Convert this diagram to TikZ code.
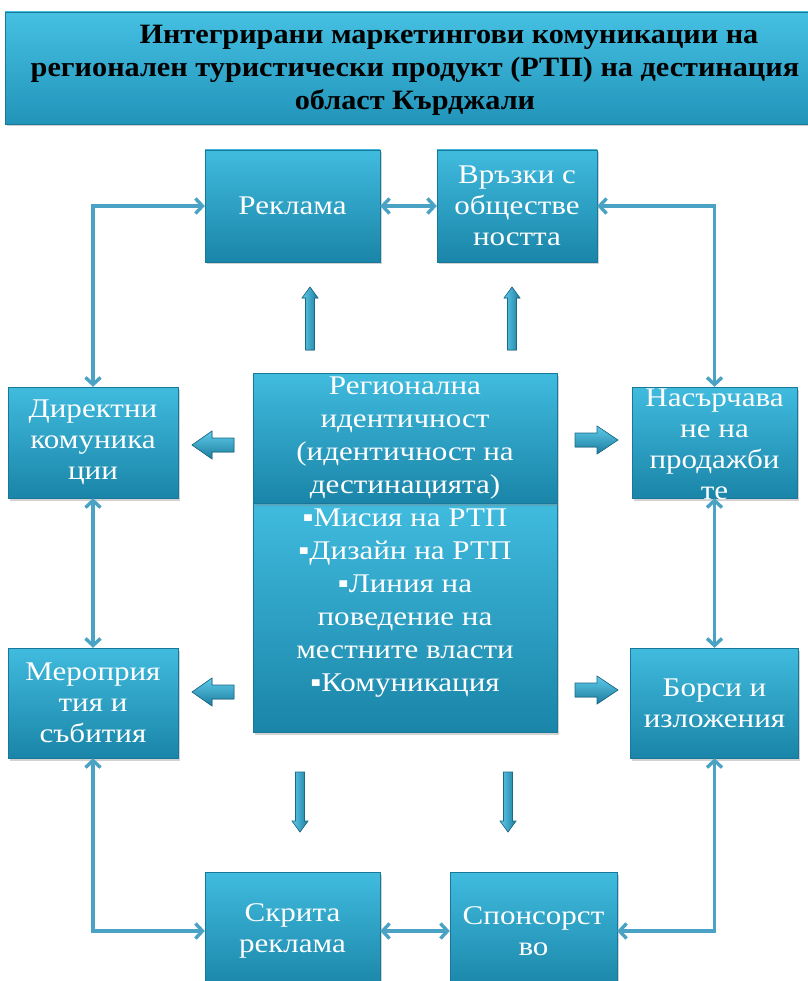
\documentclass[tikz,border=0pt]{standalone}
\usepackage{fontspec}
\setmainfont{Liberation Serif}[FakeStretch=1.15]
\newfontfamily\titlefont{Liberation Serif}[FakeStretch=1.08]
\usetikzlibrary{arrows.meta,shadows}
\definecolor{boxtop}{HTML}{40BBDE}
\definecolor{boxbot}{HTML}{1A85A8}
\definecolor{boxedge}{HTML}{17789A}
\definecolor{ttop}{HTML}{45C0E2}
\definecolor{tbot}{HTML}{2294BA}
\definecolor{conn}{HTML}{4AA3C4}
\definecolor{arrlight}{HTML}{5FCBEA}
\definecolor{arrdark}{HTML}{1B7C9E}
\definecolor{arredge}{HTML}{1A6A86}
\begin{document}
\begin{tikzpicture}[x=1pt,y=-1pt,
  box/.style={rectangle, top color=boxtop, bottom color=boxbot, draw=boxedge,
    line width=0.4pt, text=white, align=center, inner sep=0pt,
    font=\fontsize{27}{31}\selectfont,
    drop shadow={opacity=0.35,shadow xshift=1.5pt,shadow yshift=-2.5pt}},
  boxtext/.style={text=white, align=center, inner sep=0pt, font=\fontsize{27}{31}\selectfont},
  link/.style={draw=conn, line width=3.4pt,
    arrows={Straight Barb[length=7pt,width=15pt]-Straight Barb[length=7pt,width=15pt]}},
  blockh/.style={top color=arrlight, bottom color=arrdark, draw=arredge, line width=0.6pt},
  blockv/.style={left color=arrlight, right color=arrdark, draw=arredge, line width=0.6pt}
]
\fill[white] (0,0) rectangle (807,981);
\useasboundingbox (0,0) rectangle (807,981);

% title
\node[box, minimum width=824pt, minimum height=112pt, top color=ttop, bottom color=tbot] (title) at (417,68) {};
\node[text=black, align=center, inner sep=0pt,
  font=\titlefont\bfseries\fontsize{28}{33}\selectfont] (titletext) at (415,70)
  {\hspace*{68pt}Интегрирани маркетингови комуникации на\\
   регионален туристически продукт (РТП) на дестинация\\
   област Кърджали};

% top row
\node[box, minimum width=175pt, minimum height=112pt] (reklama) at (292.5,206) {Реклама};
\node[box, minimum width=160pt, minimum height=112pt] (vrazki) at (517,206) {Връзки с\\обществе\\ността};

% middle rows
\node[box, minimum width=170pt, minimum height=111pt] (direktni) at (93,442.5) {Директни\\комуника\\ции};
\node[box, minimum width=165pt, minimum height=111pt] (nasarch) at (714.5,442.5) {};
\node[boxtext] (nasarchtext) at (714.5,444) {Насърчава\\не на\\продажби\\те};
\node[box, minimum width=170pt, minimum height=110pt] (merop) at (93,703) {Мероприя\\тия и\\събития};
\node[box, minimum width=168pt, minimum height=110pt] (borsi) at (714.5,703) {Борси и\\изложения};

% center
\node[box, minimum width=304pt, minimum height=229pt] (cbot) at (405,617.5) {};
\node[boxtext, font=\fontsize{27}{33}\selectfont] (cbottext) at (405,603)
  {▪Мисия на РТП\\▪Дизайн на РТП\\▪Линия на\\поведение на\\местните власти\\▪Комуникация};
\node[box, minimum width=304pt, minimum height=130pt] (ctop) at (405,438) {};
\node[boxtext, font=\fontsize{27}{33}\selectfont] (ctoptext) at (405,438)
  {Регионална\\идентичност\\(идентичност на\\дестинацията)};

% bottom row
\node[box, minimum width=175pt, minimum height=118pt] (skrita) at (292.5,931) {Скрита\\реклама};
\node[box, minimum width=167pt, minimum height=118pt] (sponsor) at (533.5,931) {Спонсорст\\во};

% connectors
\draw[link] (direktni.north) |- (reklama.west);
\draw[link] (reklama.east) -- (vrazki.west);
\draw[link] (vrazki.east) -| (nasarch.north);
\draw[link] (direktni.south) -- (merop.north);
\draw[link] (nasarch.south) -- (borsi.north);
\draw[link] (merop.south) |- (skrita.west);
\draw[link] (skrita.east) -- (sponsor.west);
\draw[link] (borsi.south) |- (sponsor.east);

% block arrows up
\foreach \x in {310,512}
  \filldraw[blockv] (\x,287) -- (\x+8,298) -- (\x+4.5,298) -- (\x+4.5,350) -- (\x-4.5,350) -- (\x-4.5,298) -- (\x-8,298) -- cycle;
% block arrows down
\foreach \x in {300,508}
  \filldraw[blockv] (\x,832) -- (\x+8,821) -- (\x+4.5,821) -- (\x+4.5,772) -- (\x-4.5,772) -- (\x-4.5,821) -- (\x-8,821) -- cycle;
% block arrows left
\foreach \y in {445,692}
  \filldraw[blockh] (192,\y) -- (212,\y-14) -- (212,\y-7) -- (234,\y-7) -- (234,\y+7) -- (212,\y+7) -- (212,\y+14) -- cycle;
% block arrows right
\foreach \y in {440,690}
  \filldraw[blockh] (618,\y) -- (597,\y-14) -- (597,\y-7) -- (575,\y-7) -- (575,\y+7) -- (597,\y+7) -- (597,\y+14) -- cycle;
\end{tikzpicture}
\end{document}
